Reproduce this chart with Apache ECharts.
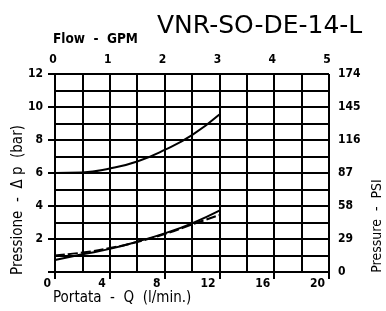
<!DOCTYPE html>
<html><head><meta charset="utf-8">
<script src="https://cdn.jsdelivr.net/npm/echarts@6/dist/echarts.min.js"></script>
<style>html,body{margin:0;padding:0;background:#fff}#c{width:386px;height:311px}</style>
</head><body><div id="c"></div>
<script>
// Data
const flowLpm = [0, 2, 4, 6, 8, 10, 12];
const upperCurve = [6.0, 6.03, 6.27, 6.7, 7.4, 8.3, 9.55];
const lowerSolid = [0.73, 1.07, 1.4, 1.84, 2.34, 2.95, 3.72];
const lowerDashed = [1.0, 1.18, 1.45, 1.82, 2.3, 2.88, 3.45];
const gpmLabels = ['0', '1', '2', '3', '4', '5'];
const psiLabels = ['0', '29', '58', '87', '116', '145', '174'];
const barLabels = ['', '2', '4', '6', '8', '10', '12'];

const FN = '"DejaVu Sans Condensed", "Liberation Sans Narrow", "Arial Narrow", sans-serif';
const line = {color: '#000', width: 2};

const pairs = a => flowLpm.map((q, i) => [q, a[i]]);

const chart = echarts.init(document.getElementById('c'), null, {renderer: 'canvas'});
chart.setOption({
  animation: false,
  backgroundColor: '#fff',
  title: {
    text: 'VNR-SO-DE-14-L', left: 152, top: 9,
    textStyle: {fontFamily: '"DejaVu Sans", sans-serif', fontWeight: 'normal', fontSize: 25, color: '#000'}
  },
  grid: {left: 55, right: 57, top: 74, bottom: 39},
  xAxis: [{
    type: 'value', position: 'bottom', min: 0, max: 20, interval: 4,
    axisLine: {lineStyle: line},
    axisTick: {show: true, inside: false, length: 7, lineStyle: line},
    minorTick: {show: false, splitNumber: 2},
    splitLine: {show: true, lineStyle: line},
    minorSplitLine: {show: true, lineStyle: line},
    axisLabel: {fontFamily: FN, fontWeight: 'bold', fontSize: 12, color: '#000', margin: 6,
      align: 'right', padding: [0, 4, 0, 0]}
  }, {
    type: 'value', position: 'top', min: 0, max: 5, interval: 1,
    axisLine: {lineStyle: line},
    axisTick: {show: true, inside: false, length: 7, lineStyle: line},
    splitLine: {show: false},
    axisLabel: {fontFamily: FN, fontWeight: 'bold', fontSize: 12, color: '#000', margin: 8,
      padding: [0, 4, 0, 0],
      formatter: (v) => gpmLabels[Math.round(v)]}
  }],
  yAxis: [{
    type: 'value', position: 'left', min: 0, max: 12, interval: 2,
    axisLine: {show: true, lineStyle: line},
    axisTick: {show: true, inside: false, length: 7, lineStyle: line},
    minorTick: {show: false, splitNumber: 2},
    splitLine: {show: true, lineStyle: line},
    minorSplitLine: {show: true, lineStyle: line},
    axisLabel: {fontFamily: FN, fontWeight: 'bold', fontSize: 12, color: '#000', margin: 12,
      formatter: (v) => barLabels[Math.round(v / 2)]}
  }, {
    type: 'value', position: 'right', min: 0, max: 12, interval: 2,
    axisLine: {show: true, lineStyle: line},
    axisTick: {show: true, inside: false, length: 7, lineStyle: line},
    splitLine: {show: false},
    axisLabel: {fontFamily: FN, fontWeight: 'bold', fontSize: 12, color: '#000', margin: 9,
      formatter: (v) => psiLabels[Math.round(v / 2)]}
  }],
  series: [
    {type: 'line', xAxisIndex: 0, yAxisIndex: 0, data: pairs(upperCurve), smooth: true, symbol: 'none',
      lineStyle: {color: '#000', width: 2}},
    {type: 'line', xAxisIndex: 0, yAxisIndex: 0, data: pairs(lowerSolid), smooth: true, symbol: 'none',
      lineStyle: {color: '#000', width: 2}},
    {type: 'line', xAxisIndex: 0, yAxisIndex: 0, data: pairs(lowerDashed), smooth: true, symbol: 'none',
      lineStyle: {color: '#000', width: 2, type: [10, 3]}}
  ],
  graphic: [
    {type: 'text', left: 53, top: 32, style: {text: 'Flow  -  GPM', font: 'bold 13.5px ' + FN, fill: '#000'}},
    {type: 'text', left: 53, top: 291, style: {text: 'Portata  -  Q  (l/min.)', font: '15px ' + FN, fill: '#000'}},
    {type: 'text', x: 18, y: 200, rotation: Math.PI / 2,
      style: {text: 'Pressione  -  Δ p  (bar)', font: '15px ' + FN, fill: '#000', align: 'center', verticalAlign: 'middle'}},
    {type: 'text', x: 377, y: 226, rotation: Math.PI / 2,
      style: {text: 'Pressure  -  PSI', font: '14px ' + FN, fill: '#000', align: 'center', verticalAlign: 'middle'}}
  ]
});
</script></body></html>
